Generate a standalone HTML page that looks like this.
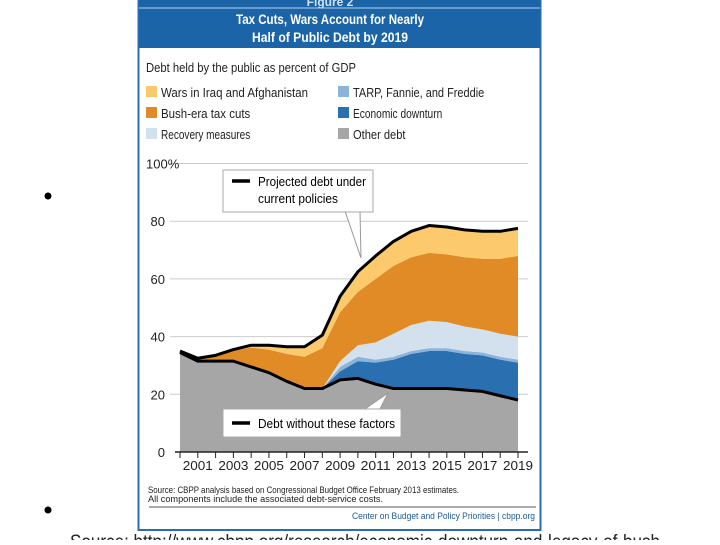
<!DOCTYPE html>
<html><head><meta charset="utf-8"><style>
body{margin:0;width:720px;height:540px;overflow:hidden;background:#fff;font-family:"Liberation Sans",sans-serif}
</style></head><body>
<svg width="720" height="540" viewBox="0 0 720 540" font-family="Liberation Sans, sans-serif">
<rect x="138.5" y="-2" width="402" height="532" fill="#fff" stroke="#2b6cb0" stroke-width="2"/>
<rect x="139" y="0" width="401" height="48" fill="#1b64a8"/>
<line x1="139" y1="8" x2="540" y2="8" stroke="#fff" stroke-width="1" opacity="0.7"/>
<text x="330" y="6" fill="#cfe0f3" font-size="12" text-anchor="middle" font-weight="bold">Figure 2</text>
<text x="330" y="24" fill="#fff" font-size="13.5" font-weight="bold" text-anchor="middle" textLength="188" lengthAdjust="spacingAndGlyphs">Tax Cuts, Wars Account for Nearly</text>
<text x="330" y="42" fill="#fff" font-size="13.5" font-weight="bold" text-anchor="middle" textLength="156" lengthAdjust="spacingAndGlyphs">Half of Public Debt by 2019</text>
<text x="146" y="72" font-size="13" fill="#222" textLength="210" lengthAdjust="spacingAndGlyphs">Debt held by the public as percent of GDP</text>
<g id="legend"></g>
<g id="plot"></g>
<g>
<polygon points="345,211 360,211 361,258" fill="#fff" stroke="#999"/>
<rect x="223" y="170" width="150" height="42" fill="#fff" stroke="#aaa"/>
<line x1="232" y1="181" x2="250" y2="181" stroke="#000" stroke-width="3.5"/>
<text x="258" y="186" font-size="13" textLength="108" lengthAdjust="spacingAndGlyphs">Projected debt under</text>
<text x="258" y="203" font-size="13" textLength="80" lengthAdjust="spacingAndGlyphs">current policies</text>
</g>
<g>
<polygon points="365,409 380,409 388,393" fill="#fff" stroke="#999"/>
<rect x="223" y="409" width="178" height="28" fill="#fff" stroke="#aaa"/>
<line x1="232" y1="423" x2="250" y2="423" stroke="#000" stroke-width="3.5"/>
<text x="258" y="428" font-size="13" textLength="137" lengthAdjust="spacingAndGlyphs">Debt without these factors</text>
</g>
<text x="148" y="493" font-size="9" fill="#222" textLength="311" lengthAdjust="spacingAndGlyphs">Source: CBPP analysis based on Congressional Budget Office February 2013 estimates.</text>
<text x="148" y="502" font-size="9" fill="#222" textLength="235" lengthAdjust="spacingAndGlyphs">All components include the associated debt-service costs.</text>
<line x1="149" y1="507" x2="536" y2="507" stroke="#aaa" stroke-width="2"/>
<text x="535" y="519" font-size="9" fill="#1b5a96" text-anchor="end" textLength="183" lengthAdjust="spacingAndGlyphs">Center on Budget and Policy Priorities | cbpp.org</text>
<circle cx="48" cy="196" r="3.5" fill="#000"/>
<circle cx="48" cy="510" r="3.5" fill="#000"/>
<text x="70" y="548" font-size="19" fill="#222" textLength="590" lengthAdjust="spacingAndGlyphs">Source: http://www.cbpp.org/research/economic-downturn-and-legacy-of-bush</text>
</svg>
<script>
const years=[2000,2001,2002,2003,2004,2005,2006,2007,2008,2009,2010,2011,2012,2013,2014,2015,2016,2017,2018,2019];
const otherDebt=[34.5,31.5,31.5,31.5,29.5,27.5,24.5,22,22,25,25.5,23.5,22,22,22,22,21.5,21,19.5,18];
const downturn=[0,0,0,0,0,0,0,0,0,3,6,7.5,10,12,13,13,12.5,12.5,12.5,13];
const tarp=[0,0,0,0,0,0,0,0,0,1.5,1.5,1,1,1,1,1,1,1,1,1];
const recovery=[0,0,0,0,0,0,0,0,0,2,4,6,8,9,9.5,9,8.5,8,8,8];
const taxCuts=[0.5,1,2,3.7,6.7,8,9.5,11,14,17,18.5,22,23.5,23.5,23.5,23.5,24,24.5,26,28];
const wars=[0,0,0,0.3,0.8,1.5,2.5,3.5,4.5,5.5,7,8,8.5,9,9.5,9.5,9.5,9.5,9.5,9.5];
const yTicks=[0,20,40,60,80,100];
const yTickLabels=["0","20","40","60","80","100%"];
const xLabels=[2001,2003,2005,2007,2009,2011,2013,2015,2017,2019];
const NS="http://www.w3.org/2000/svg";
const X=y=>180+(y-2000)*(518-180)/19;
const Y=v=>452-v*2.885;
function mk(t,a,p){const e=document.createElementNS(NS,t);for(const k in a)e.setAttribute(k,a[k]);p.appendChild(e);return e;}
const plot=document.getElementById('plot');
yTicks.forEach((t,i)=>{
 if(t>0){const g=mk('line',{x1:170,x2:528,y1:Y(t),y2:Y(t),stroke:'#ccc','stroke-width':1},plot);
 
 }
 const l=mk('text',{x:t==100?146:165,y:Y(t)+5,'font-size':13,'text-anchor':t==100?'start':'end',fill:'#222'},plot);
 l.textContent=yTickLabels[i];
 
 
});
const series=[["other-debt",otherDebt,"#a6a6a6"],["economic-downturn",downturn,"#2a70b0"],["tarp",tarp,"#8cb3d9"],["recovery-measures",recovery,"#d3e1ef"],["bush-tax-cuts",taxCuts,"#e18b26"],["wars",wars,"#fcc96c"]];
let base=years.map(()=>0);
series.forEach(([n,vals,c])=>{
 const top=base.map((b,i)=>b+vals[i]);
 let d='M'+years.map((y,i)=>X(y)+','+Y(top[i])).join('L');
 for(let i=years.length-1;i>=0;i--)d+='L'+X(years[i])+','+Y(base[i]);
 const p=mk('path',{d:d+'Z',fill:c},plot);
 
 
 base=top;
});
const total=base;
[[total,'line-projected-debt'],[otherDebt,'line-debt-without-factors']].forEach(([v,n])=>{
 const p=mk('polyline',{points:years.map((y,i)=>X(y)+','+Y(v[i])).join(' '),fill:'none',stroke:'#000','stroke-width':3,'stroke-linejoin':'round'},plot);
 
 
});
const ax=mk('line',{x1:175,x2:528,y1:452,y2:452,stroke:'#222','stroke-width':1.5},plot);


years.forEach(y=>{mk('line',{x1:X(y),x2:X(y),y1:452,y2:458,stroke:'#222'},plot);});
xLabels.forEach(y=>{
 const t=mk('text',{x:X(y),y:470,'font-size':13,'text-anchor':'middle',fill:'#222',textLength:30,lengthAdjust:'spacingAndGlyphs'},plot);
 t.textContent=y;
 
 
});
const leg=document.getElementById('legend');
const items=[["Wars in Iraq and Afghanistan","#fcc96c",146,92],["Bush-era tax cuts","#e18b26",146,113],["Recovery measures","#d3e1ef",146,134],["TARP, Fannie, and Freddie","#8cb3d9",338,92],["Economic downturn","#2a70b0",338,113],["Other debt","#a6a6a6",338,134]];
items.forEach(([lab,c,x,y])=>{
 const r=mk('rect',{x:x,y:y-6,width:11,height:11,fill:c},leg);
 
 
 const t=mk('text',{x:x+15,y:y+5,'font-size':13,fill:'#222',textLength:lab.length*5.25,lengthAdjust:'spacingAndGlyphs'},leg);
 t.textContent=lab;
 
 
});
</script>
</body></html>
